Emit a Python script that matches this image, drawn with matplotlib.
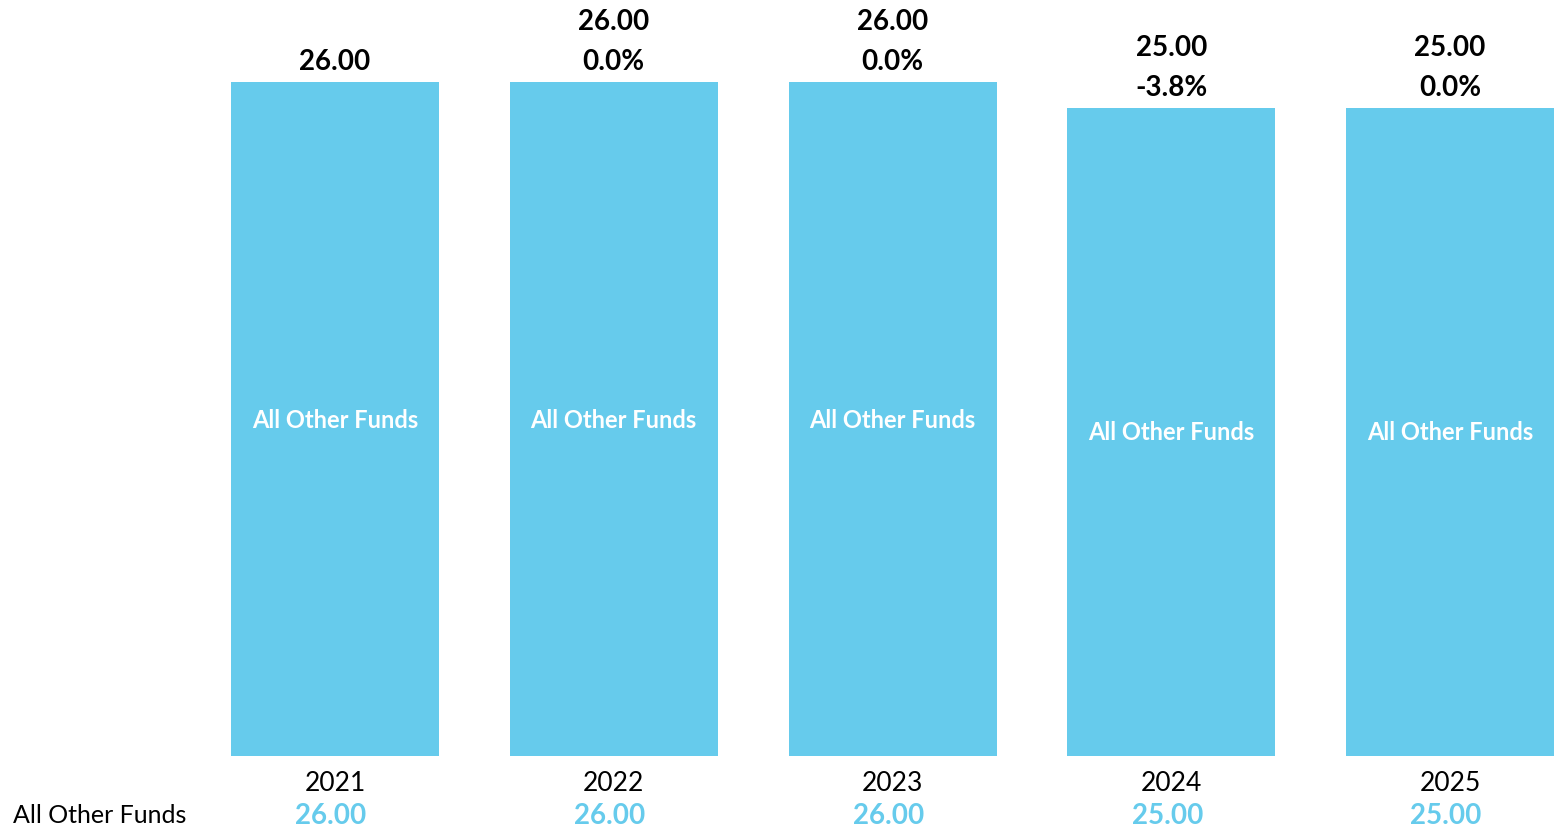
import matplotlib
matplotlib.use("Agg")
import matplotlib.pyplot as plt

years = ["2021", "2022", "2023", "2024", "2025"]
values = [26.00, 26.00, 26.00, 25.00, 25.00]
pct_change = [None, "0.0%", "0.0%", "-3.8%", "0.0%"]
series_name = "All Other Funds"

bar_color = "#66CBEC"
plt.rcParams['font.family'] = ['Lato', 'DejaVu Sans']

W, H = 1555, 829
fig = plt.figure(figsize=(W / 100, H / 100), dpi=100)
bottom_px = 757
ax = fig.add_axes([0, 1 - bottom_px / H, 1, bottom_px / H])
spacing = 278.75
x0 = 335
ax.set_xlim((0 - x0) / spacing, (W - x0) / spacing)
ymax = 26 * bottom_px / 674
ax.set_ylim(0, ymax)
ax.axis("off")

xs = list(range(len(years)))
ax.bar(xs, values, width=208 / spacing, color=bar_color)

px = ymax / bottom_px  # data units per pixel
for i, (v, p) in enumerate(zip(values, pct_change)):
    ax.text(i, v / 2, series_name, ha="center", va="center", color="white",
            fontsize=17, fontweight="bold")
    if p is None:
        ax.text(i, v + 21 * px, f"{v:.2f}", ha="center", va="center",
                fontsize=20, fontweight="bold", color="black")
    else:
        ax.text(i, v + 21 * px, p, ha="center", va="center",
                fontsize=20, fontweight="bold", color="black")
        ax.text(i, v + 61 * px, f"{v:.2f}", ha="center", va="center",
                fontsize=20, fontweight="bold", color="black")
    ax.text(i, -27 * px, years[i], ha="center", va="center", fontsize=19,
            color="black", clip_on=False)
    ax.text(i - 4 / spacing, -59 * px, f"{v:.2f}", ha="center", va="center",
            fontsize=20, fontweight="bold", color=bar_color, clip_on=False)

ax.text((13 - x0) / spacing, -59 * px, series_name, ha="left", va="center",
        fontsize=18, color="black", clip_on=False)

fig.savefig("out.png", dpi=100)
